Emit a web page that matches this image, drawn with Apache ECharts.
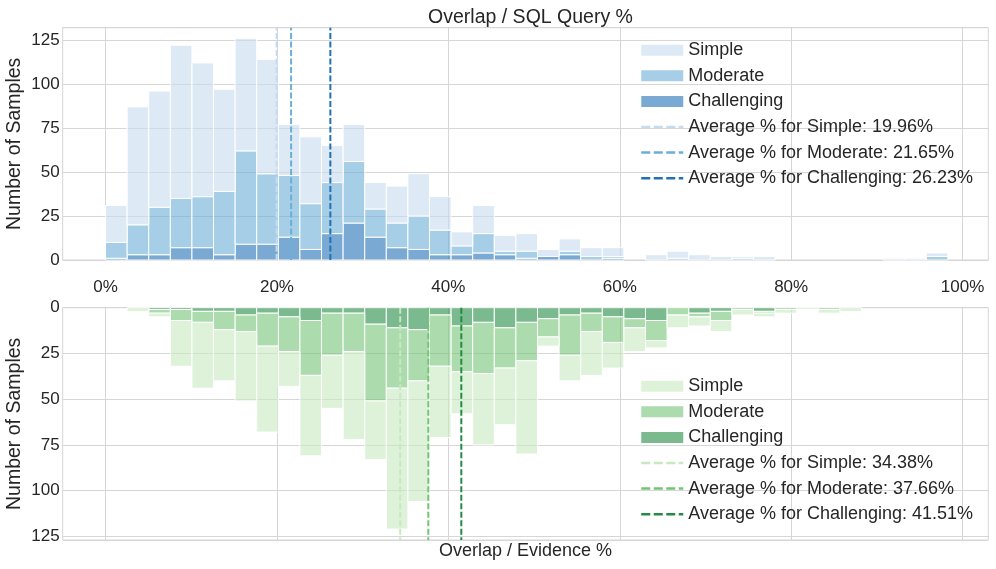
<!DOCTYPE html>
<html><head><meta charset="utf-8">
<script src="https://cdn.jsdelivr.net/npm/echarts@6/dist/echarts.min.js"></script>
<style>html,body{margin:0;padding:0;background:#fff}#c{width:996px;height:569px}</style>
</head><body><div id="c"></div>
<script>
// ---- data ----
const binStart = 0;          // lower edge of first histogram bin (%)
const binWidth = 2.52;       // bin width (%)
const tickValues = [0, 20, 40, 60, 80, 100];
const tickLabels = ['0%', '20%', '40%', '60%', '80%', '100%'];
const yTicks = [0, 25, 50, 75, 100, 125];
const difficulties = ['Simple', 'Moderate', 'Challenging'];

// Overlap / SQL Query % (counts per bin, stacked: challenging bottom, then moderate, then simple)
const sqlChallenging = [1,3,3,7,7,3,9,9,13,6,15,21,13,7,6,3,3,4,3,1,2,3,0,1,0,0,0,0,0,0,0,0,0,0,0,0,0,0,0,0];
const sqlModerate    = [9,17,27,28,29,36,53,40,35,26,29,35,16,14,19,14,5,11,2,4,0,2,2,1,0,0,1,0,0,1,0,0,0,0,0,0,0,0,2,0];
const sqlSimple      = [21,67,66,87,76,58,64,65,29,38,21,21,15,21,24,19,8,16,9,10,4,7,5,5,0,3,4,3,2,1,2,0,0,0,0,0,1,1,2,0];
const sqlAverages    = [19.96, 21.65, 26.23];

// Overlap / Evidence %
const evChallenging = [0,0,1,1,2,2,4,3,5,7,3,3,9,11,12,4,10,8,11,8,6,4,3,5,6,7,0,3,2,0,2,0,0,0,0,0,0,0,0,0];
const evModerate    = [0,0,2,6,6,10,9,18,19,30,23,21,42,33,28,28,25,28,22,21,10,22,10,14,5,11,4,2,5,1,1,1,0,1,0,0,0,0,0,0];
const evSimple      = [0,2,2,25,36,28,38,47,19,44,29,48,32,77,66,39,23,39,31,51,5,14,24,14,13,4,7,5,6,3,2,2,1,2,2,0,0,0,0,0];
const evAverages    = [34.38, 37.66, 41.51];

// ---- styles ----
const FONT = "'Liberation Sans', Arial, sans-serif";
const TXT = '#262626';
const GRIDC = '#d6d6d6';
const blueBar = ['rgba(198,219,239,0.6)', 'rgba(107,174,214,0.6)', 'rgba(33,113,181,0.6)'];
const blueLine = ['#c6dbef', '#6baed6', '#2171b5'];
const greenBar = ['rgba(199,233,192,0.6)', 'rgba(116,196,118,0.6)', 'rgba(35,139,69,0.6)'];
const greenLine = ['#c7e9c0', '#74c476', '#238b45'];
const X_MIN = -5, X_MAX = 103;
const Y_MAX_TOP = 132, Y_MAX_BOT = 127;

function histSeries(id, counts, base, color, gi) {
  const data = [];
  counts.forEach((v, i) => {
    if (v > 0) data.push([binStart + i * binWidth, binStart + (i + 1) * binWidth, base[i], base[i] + v]);
  });
  return {
    type: 'custom', name: id, xAxisIndex: gi, yAxisIndex: gi, z: 2,
    itemStyle: { color: color },
    encode: { x: [0, 1], y: [2, 3] },
    renderItem: function (params, api) {
      const p0 = api.coord([api.value(0), api.value(2)]);
      const p1 = api.coord([api.value(1), api.value(3)]);
      return {
        type: 'rect',
        shape: { x: Math.min(p0[0], p1[0]), y: Math.min(p0[1], p1[1]),
                 width: Math.abs(p1[0] - p0[0]), height: Math.abs(p1[1] - p0[1]) },
        style: { fill: color, stroke: '#ffffff', lineWidth: 1 }
      };
    },
    data: data
  };
}

function buildStack(prefix, arrs, colors, gi) {
  const order = [2, 1, 0];
  let base = new Array(arrs[0].length).fill(0);
  const out = [];
  order.forEach(k => {
    out.push(histSeries(prefix + difficulties[k], arrs[k], base, colors[k], gi));
    base = base.map((b, i) => b + arrs[k][i]);
  });
  return out;
}

function avgName(k, a) { return 'Average % for ' + difficulties[k] + ': ' + a.toFixed(2) + '%'; }

function avgSeries(avgs, colors, gi, ymax) {
  return avgs.map((a, k) => ({
    type: 'line', name: avgName(k, a),
    xAxisIndex: gi, yAxisIndex: gi, z: 5, silent: true,
    symbol: 'none', data: [[a, 0], [a, ymax]],
    lineStyle: { color: colors[k], width: 2, type: [6, 2.5] },
    itemStyle: { color: colors[k] }
  }));
}

function legendData(prefix, barColors, lineColors, avgs) {
  const d = difficulties.map((n, k) => ({ name: prefix + n, icon: 'rect', itemStyle: { color: barColors[k], borderWidth: 0 } }));
  avgs.forEach((a, k) => d.push({ name: avgName(k, a),
    itemStyle: { opacity: 0 },
    lineStyle: { color: lineColors[k], width: 2.5, type: [9, 3.5] } }));
  return d;
}

const series = []
  .concat(buildStack('sql:', [sqlSimple, sqlModerate, sqlChallenging], blueBar, 0))
  .concat(avgSeries(sqlAverages, blueLine, 0, Y_MAX_TOP))
  .concat(buildStack('ev:', [evSimple, evModerate, evChallenging], greenBar, 1))
  .concat(avgSeries(evAverages, greenLine, 1, Y_MAX_BOT));

function xAxisCfg(gi, showLabels, name) {
  return {
    type: 'value', gridIndex: gi, min: X_MIN, max: X_MAX,
    axisLine: { show: false }, axisTick: { show: false, customValues: tickValues },
    splitLine: { show: true, lineStyle: { color: GRIDC, width: 1 } },
    axisLabel: { show: showLabels, customValues: tickValues, margin: 19,
      formatter: v => tickLabels[tickValues.indexOf(v)] || '',
      fontSize: 17, color: TXT, fontFamily: FONT },
    name: name, nameLocation: 'middle', nameGap: 2.5, nameMoveOverlap: false,
    nameTextStyle: { fontSize: 18, color: TXT, fontFamily: FONT, verticalAlign: 'top' }
  };
}
function yAxisCfg(gi, ymax, inverse) {
  return {
    type: 'value', gridIndex: gi, min: 0, max: ymax, interval: 25, inverse: inverse,
    axisLine: { show: false }, axisTick: { show: false },
    splitLine: { show: true, lineStyle: { color: GRIDC, width: 1 } },
    axisLabel: { margin: 3, fontSize: 17, color: TXT, fontFamily: FONT,
      formatter: v => (yTicks.indexOf(v) >= 0 ? String(v) : '') },
    name: 'Number of Samples', nameLocation: 'middle', nameGap: 38, nameMoveOverlap: false,
    nameTextStyle: { fontSize: 19.5, color: TXT, fontFamily: FONT }
  };
}

const legendCommon = {
  orient: 'vertical', left: 640, itemWidth: 42, itemHeight: 11, itemGap: 7.6, padding: 0,
  textStyle: { fontSize: 18, lineHeight: 18, color: TXT, fontFamily: FONT },
  formatter: n => n.replace(/^(sql|ev):/, ''),
  selectedMode: false
};

const gridCommon = { left: 62.7, right: 7.7, height: 232.3, show: true, borderColor: GRIDC, borderWidth: 1,
  backgroundColor: 'transparent', containLabel: false, outerBoundsMode: 'none' };

const option = {
  animation: false,
  backgroundColor: '#ffffff',
  title: { text: 'Overlap / SQL Query %', left: 525.5, textAlign: 'center', top: 3,
    textStyle: { fontSize: 19.5, fontWeight: 'normal', color: TXT, fontFamily: FONT } },
  grid: [
    Object.assign({}, gridCommon, { top: 27.7 }),
    Object.assign({}, gridCommon, { top: 307.7 })
  ],
  xAxis: [xAxisCfg(0, true, ''), xAxisCfg(1, false, 'Overlap / Evidence %')],
  yAxis: [yAxisCfg(0, Y_MAX_TOP, false), yAxisCfg(1, Y_MAX_BOT, true)],
  legend: [
    Object.assign({}, legendCommon, { top: 41.2, data: legendData('sql:', blueBar, blueLine, sqlAverages) }),
    Object.assign({}, legendCommon, { top: 377.2, data: legendData('ev:', greenBar, greenLine, evAverages) })
  ],
  series: series
};

const chart = echarts.init(document.getElementById('c'), null, { renderer: 'canvas' });
chart.setOption(option);
</script>
</body></html>
